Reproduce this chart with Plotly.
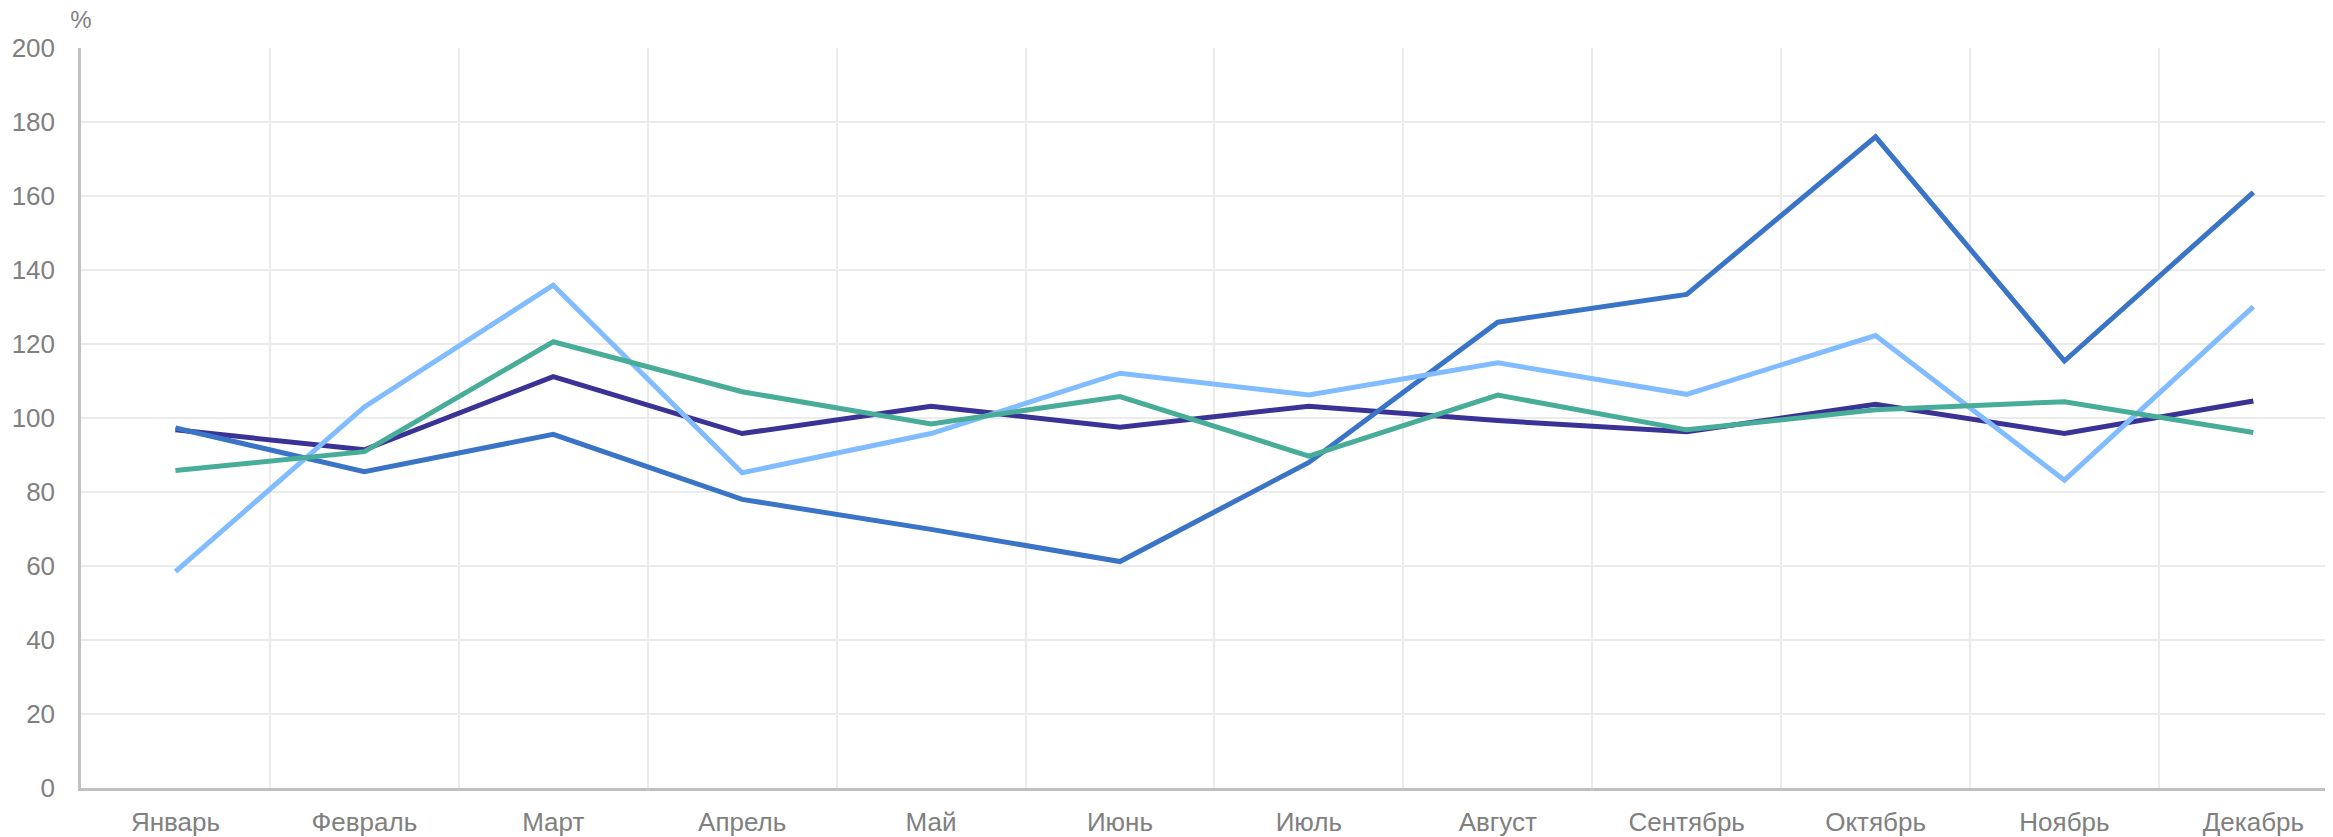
import plotly.graph_objects as go

months = ["Январь", "Февраль", "Март", "Апрель", "Май", "Июнь",
          "Июль", "Август", "Сентябрь", "Октябрь", "Ноябрь", "Декабрь"]

series_navy = [96.8, 91.4, 111.2, 95.8, 103.2, 97.5, 103.2, 99.3, 96.3, 103.7, 95.8, 104.6]
series_blue = [97.3, 85.5, 95.6, 78.0, 69.9, 61.2, 88.0, 125.9, 133.4, 176.0, 115.4, 161.0]
series_light = [58.5, 103.0, 135.9, 85.2, 95.8, 112.1, 106.2, 114.9, 106.4, 122.3, 83.2, 130.1]
series_teal = [85.8, 90.9, 120.6, 107.1, 98.4, 105.8, 89.7, 106.2, 96.8, 102.2, 104.4, 96.1]

y_ticks = [0, 20, 40, 60, 80, 100, 120, 140, 160, 180, 200]
unit_label = "%"

series = [
    ("s1", series_navy, "#3a3294"),
    ("s2", series_blue, "#3a74c6"),
    ("s3", series_light, "#80bcff"),
    ("s4", series_teal, "#48ad98"),
]

idx = list(range(len(months)))
boundaries = [i + 0.5 for i in idx[:-1]]

fig = go.Figure()
for name, vals, col in series:
    fig.add_trace(go.Scatter(x=idx, y=vals, mode="lines", name=name,
                             line=dict(color=col, width=5)))

# The page body keeps its default 8px margin, so the figure is offset by 8px.
W, H = 2325, 829
font_family = "Liberation Sans, Arial, sans-serif"
fig.update_layout(
    width=W, height=H,
    margin=dict(l=73, r=0, t=40, b=49, autoexpand=False),
    paper_bgcolor="white", plot_bgcolor="white",
    showlegend=False,
    font=dict(family=font_family, size=26, color="#808080"),
    title=dict(text=unit_label, xref="container", yref="container",
               x=73 / W, xanchor="center", y=1 - 12 / H, yanchor="middle",
               font=dict(size=24, color="#808080")),
    xaxis=dict(
        range=[-0.5, -0.5 + (2333 - 81) / 188.9], automargin=False,
        tickvals=idx, ticktext=months,
        showgrid=False,
        minor=dict(tickvals=boundaries, showgrid=True, gridcolor="#ebebeb", gridwidth=1.5, ticks=""),
        showline=True, linecolor="#c0c0c0", linewidth=2.5,
        ticks="", ticklabelstandoff=9, zeroline=False,
        tickfont=dict(size=26, color="#808080"),
    ),
    yaxis=dict(
        range=[0, 200], tickvals=y_ticks, automargin=False,
        showgrid=True, gridcolor="#ebebeb", gridwidth=1.5,
        showline=True, linecolor="#c0c0c0", linewidth=2.5,
        ticks="", ticklabelstandoff=18, zeroline=False,
        tickfont=dict(size=26, color="#808080"),
    ),
)

fig.write_html("out.html", config={"displayModeBar": False})
